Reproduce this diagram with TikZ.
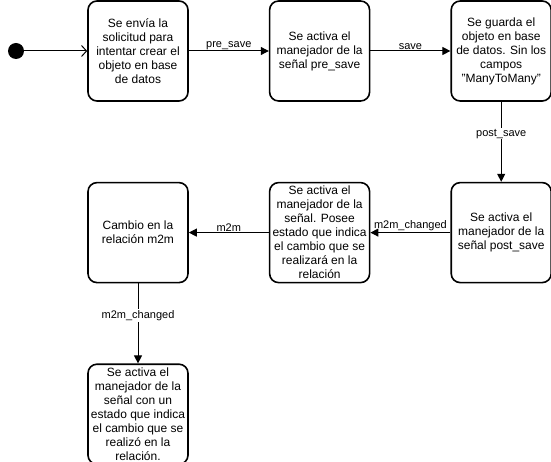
\documentclass[tikz,border=0pt]{standalone}
\usepackage{fontspec}
\setmainfont{Liberation Sans}
\usetikzlibrary{positioning,arrows.meta}

\begin{document}
\begin{tikzpicture}[x=1pt, y=1pt, node distance=80pt,
    state/.style={rectangle, draw, rounded corners=9pt, line width=1.6pt, minimum size=100pt, inner sep=1pt, align=center, font=\fontsize{12}{14}\selectfont},
    flow/.style={-{Triangle[length=8pt,width=8pt]}, line width=1pt},
    tag/.style={inner sep=1pt, font=\fontsize{11}{13}\selectfont}]
    \useasboundingbox (0,0) rectangle (551,-462);

    \node[circle, fill, minimum size=16pt, inner sep=0pt] (Start) at (16,-51) {};
    \node[state] (Request) at (138,-51) {Se envía la\\solicitud para\\intentar crear el\\objeto en base\\de datos};
    \node[state] (PreSave) [right=of Request] {Se activa el\\manejador de la\\señal pre\_save};
    \node[state] (Saved) [right=of PreSave] {Se guarda el\\objeto en base\\de datos. Sin los\\campos\\"ManyToMany"};
    \node[state] (PostSave) [below=of Saved] {Se activa el\\manejador de la\\señal post\_save};
    \node[state] (Changing) [left=of PostSave] {Se activa el\\manejador de la\\señal. Posee\\estado que indica\\el cambio que se\\realizará en la\\relación};
    \node[state] (Change) [left=of Changing] {Cambio en la\\relación m2m};
    \node[state] (Changed) [below=of Change] {Se activa el\\manejador de la\\señal con un\\estado que indica\\el cambio que se\\realizó en la\\relación.};

    \draw[-{Straight Barb[length=5pt,width=11pt]}, line width=1pt] (Start) to (Request);
    \draw[flow] (Request) -- node[above,tag] {pre\_save} (PreSave);
    \draw[flow] (PreSave) -- node[above,tag] {save} (Saved);
    \draw[flow] (Saved) -- node[pos=0.4,fill=white,tag] {post\_save} (PostSave);
    \draw[flow] (PostSave) -- node[above,tag] {m2m\_changed} (Changing);
    \draw[flow] (Changing) -- node[above,tag] {m2m} (Change);
    \draw[flow] (Change) -- node[pos=0.4,fill=white,tag] {m2m\_changed} (Changed);
\end{tikzpicture}
\end{document}
